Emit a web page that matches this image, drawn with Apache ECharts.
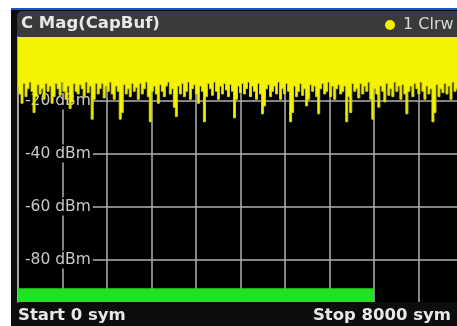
<!DOCTYPE html>
<html><head><meta charset="utf-8">
<script src="https://cdn.jsdelivr.net/npm/echarts@6/dist/echarts.min.js"></script>
<style>html,body{margin:0;padding:0;background:#fff;overflow:hidden}#c{width:463px;height:326px}</style>
</head><body><div id="c"></div>
<script>
// ---- data ----
const titleText = 'C Mag(CapBuf)';
const traceName = '1 Clrw';
const xStart = 0, xStop = 8000, xStep = 800;
const yMin = -96, yMax = 4;
const yTickValues = [-80, -60, -40, -20];
const captureRange = [0, 6400];        // green capture bar (sym)
const captureLevel = [-96, -90.8];     // green bar height (dBm)
// lower envelope of the trace, one value per ~36 symbols (dBm)
const traceLow = [
 -14.5,-17.5,-21,-13.5,-18.5,-15.5,-13,-16.5,-24.5,-18.5,
 -14,-17.5,-15.5,-19.5,-13.5,-16.5,-14.5,-21,-18.5,-13.5,
 -15.5,-18,-13,-16.5,-19.5,-14.5,-23,-20.5,-13.5,-16.5,
 -17.5,-14,-15.5,-18.5,-13,-17,-14.5,-27,-19.5,-13.5,
 -17.5,-15.5,-13.5,-19,-14.5,-16.5,-13,-17.5,-19.5,-14.5,
 -16.5,-27,-24.5,-14,-17.5,-15.5,-18.5,-13.5,-16.5,-15,
 -19.5,-13.5,-17.5,-15.5,-13,-18.5,-28,-16.5,-14.5,-17.5,
 -21,-14,-16.5,-18.5,-14.5,-13,-17.5,-15.5,-22.5,-26,
 -14.5,-17.5,-13.5,-18.5,-16.5,-13,-19.5,-15.5,-14,-17.5,
 -21,-14.5,-16.5,-28,-18.5,-13.5,-15.5,-18,-13,-16.5,
 -19.5,-14.5,-17.5,-13.5,-16,-18.5,-14,-16.5,-26.5,-19.5,
 -14.5,-17,-13.5,-17.5,-15.5,-13,-18.5,-14.5,-16.5,-19.5,
 -13.5,-17.5,-25,-22,-15.5,-14,-18.5,-16.5,-14.5,-17.5,
 -13,-19.5,-15.5,-17.5,-13.5,-16.5,-28,-24.5,-14.5,-18.5,
 -16.5,-13.5,-18,-15.5,-22,-19.5,-14,-16.5,-14.5,-18.5,
 -25,-15.5,-13.5,-17.5,-16.5,-13,-18.5,-14.5,-19.5,-15.5,
 -14,-17.5,-16.5,-14.5,-28,-18.5,-24.5,-13.5,-16.5,-15.5,
 -19,-13.5,-17.5,-14.5,-16.5,-13,-19.5,-27,-15.5,-17.5,
 -22.5,-14.5,-16.5,-20.5,-13.5,-18,-15.5,-18.5,-13,-16.5,
 -14.5,-19.5,-14,-17.5,-25,-16.5,-14.5,-18.5,-13.5,-15.5,
 -17.5,-13,-16.5,-19.5,-14.5,-17.5,-15.5,-28,-24.5,-14,
 -18.5,-15.5,-17,-13.5,-17.5,-14.5,-19.5,-13,-16.5,-15.5,
 -17.5,-14.5,-18.5
];

const symPerPoint = (xStop - xStart) / (traceLow.length - 1);
const traceData = traceLow.map((v, i) => [xStart + i * symPerPoint, v]);

const chart = echarts.init(document.getElementById('c'), null, {renderer: 'canvas'});
const gridCol = '#b0b0b0';
chart.setOption({
  backgroundColor: '#ffffff',
  animation: false,
  grid: {left: 18, top: 37, right: 0, height: 265, show: true, backgroundColor: '#000', borderWidth: 0},
  xAxis: {
    type: 'value', min: xStart, max: xStop, interval: xStep,
    axisLine: {show: false}, axisTick: {show: false}, axisLabel: {show: false},
    splitLine: {show: true, lineStyle: {color: gridCol, width: 1.5}}
  },
  yAxis: {
    type: 'value', min: yMin, max: yMax,
    axisLine: {show: true, onZero: false, lineStyle: {color: gridCol, width: 1.5}},
    axisTick: {show: false, customValues: yTickValues},
    splitLine: {show: true, lineStyle: {color: gridCol, width: 1.5}},
    axisLabel: {
      show: true, customValues: yTickValues, inside: true, margin: 1,
      formatter: '{value} dBm', color: '#c8c8c8', fontSize: 15.5, fontFamily: 'DejaVu Sans',
      backgroundColor: '#000', padding: [1, 2, 1, 6], align: 'left'
    }
  },
  series: [{
    type: 'line', data: traceData, step: 'middle', showSymbol: false, symbol: 'none',
    lineStyle: {color: '#d4d400', width: 1},
    areaStyle: {color: '#f4f400', opacity: 1, origin: 'end'},
    z: 3,
    markArea: {
      silent: true,
      itemStyle: {color: '#22e022', opacity: 1},
      data: [[{xAxis: captureRange[0], yAxis: captureLevel[0]}, {xAxis: captureRange[1], yAxis: captureLevel[1]}]]
    }
  }],
  graphic: [
    {type: 'rect', z: -10, shape: {x: 11, y: 8, width: 452, height: 318}, style: {fill: '#0c0c0c'}},
    {type: 'rect', z: -9, shape: {x: 11, y: 8, width: 452, height: 2}, style: {fill: '#2050c8'}},
    {type: 'rect', z: -8, shape: {x: 17, y: 11, width: 446, height: 26, r: [5, 0, 0, 0]}, style: {fill: '#3a3a3a'}},
    {type: 'text', z: 100, style: {x: 21, y: 24, text: titleText, fill: '#e8e8e8', font: 'bold 16.5px "DejaVu Sans"', verticalAlign: 'middle'}},
    {type: 'circle', z: 100, shape: {cx: 390, cy: 25, r: 5}, style: {fill: '#f2f200'}},
    {type: 'text', z: 100, style: {x: 403, y: 25, text: traceName, fill: '#d8d8d8', font: '16px "DejaVu Sans"', verticalAlign: 'middle'}},
    {type: 'text', z: 100, style: {x: 18, y: 316, text: 'Start ' + xStart + ' sym', fill: '#e8e8e8', font: 'bold 16.5px "DejaVu Sans"', verticalAlign: 'middle'}},
    {type: 'text', z: 100, style: {x: 451, y: 316, text: 'Stop ' + xStop + ' sym', fill: '#e8e8e8', font: 'bold 16.5px "DejaVu Sans"', verticalAlign: 'middle', align: 'right'}}
  ]
});
</script></body></html>
